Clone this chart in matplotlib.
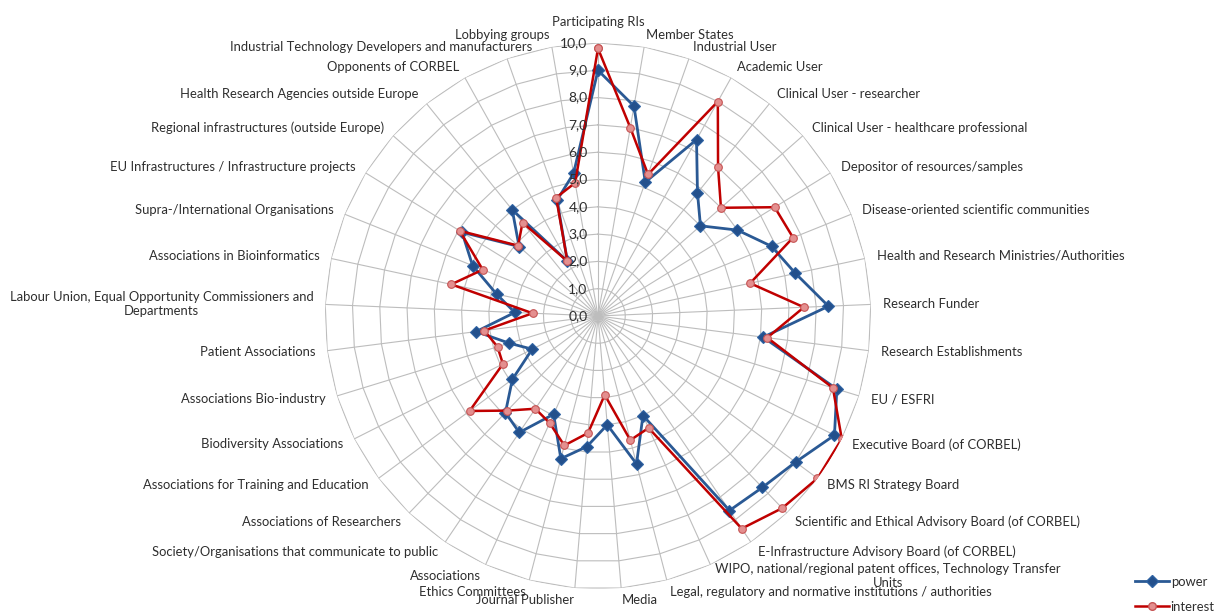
import numpy as np
import matplotlib
matplotlib.use("Agg")
import matplotlib.pyplot as plt
from matplotlib.lines import Line2D

categories = [
    "Participating RIs", "Member States", "Industrial User", "Academic User",
    "Clinical User - researcher", "Clinical User - healthcare professional",
    "Depositor of resources/samples", "Disease-oriented scientific communities",
    "Health and Research Ministries/Authorities", "Research Funder",
    "Research Establishments", "EU / ESFRI", "Executive Board (of CORBEL)",
    "BMS RI Strategy Board", "Scientific and Ethical Advisory Board (of CORBEL)",
    "E-Infrastructure Advisory Board (of CORBEL)",
    "WIPO, national/regional patent offices, Technology Transfer\nUnits",
    "Legal, regulatory and normative institutions / authorities",
    "Media", "Journal Publisher", "Ethics Committees", "Associations",
    "Society/Organisations that communicate to public",
    "Associations of Researchers", "Associations for Training and Education",
    "Biodiversity Associations", "Associations Bio-industry",
    "Patient Associations",
    "Labour Union, Equal Opportunity Commissioners and\nDepartments",
    "Associations in Bioinformatics", "Supra-/International Organisations",
    "EU Infrastructures / Infrastructure projects",
    "Regional infrastructures (outside Europe)",
    "Health Research Agencies outside Europe", "Opponents of CORBEL",
    "Industrial Technology Developers and manufacturers", "Lobbying groups",
]

power = [9.0, 7.8, 5.2, 7.4, 5.8, 5.0, 6.0, 6.85, 7.4, 8.45,
         6.1, 9.15, 9.7, 9.0, 8.7, 8.6, 4.0, 5.6, 4.0, 4.8,
         5.4, 3.95, 5.15, 4.9, 3.9, 2.7, 3.4, 4.5, 3.05, 3.8,
         4.95, 5.85, 3.85, 5.0, 2.3, 4.5, 5.3]

interest = [9.8, 7.0, 5.5, 9.0, 7.0, 6.0, 7.6, 7.7, 5.7, 7.55,
            6.25, 9.0, 10.0, 10.0, 9.75, 9.4, 4.5, 4.7, 2.9, 4.3,
            4.9, 4.3, 4.1, 4.8, 5.85, 3.9, 3.85, 4.2, 2.4, 5.5,
            4.55, 5.95, 3.9, 4.4, 2.3, 4.6, 4.95]

rticks = [0, 1, 2, 3, 4, 5, 6, 7, 8, 9, 10]
rtick_labels = ["0,0", "1,0", "2,0", "3,0", "4,0", "5,0", "6,0", "7,0",
                "8,0", "9,0", "10,0"]

FONT = "Lato"
TXT = "#2E2E2E"
GRID = "#BDBDBD"
FS = 9.35

W, H, DPI = 1218, 613, 100
fig = plt.figure(figsize=(W / DPI, H / DPI), dpi=DPI)
cx, cy, R = 598, 316, 273
ax = fig.add_axes([(cx - R) / W, (H - cy - R) / H, 2 * R / W, 2 * R / H],
                  projection="polar")
ax.set_theta_zero_location("N")
ax.set_theta_direction(-1)
ax.set_ylim(0, 10)
ax.grid(False)
ax.spines["polar"].set_visible(False)
ax.set_xticks([])
ax.set_yticks([])
ax.patch.set_alpha(0)

n = len(categories)
theta = np.arange(n) * 2 * np.pi / n
theta_closed = np.append(theta, theta[0])

# polygon gridlines
for r in rticks[1:]:
    ax.plot(theta_closed, [r] * (n + 1), color=GRID, lw=0.8, zorder=1)
for t in theta:
    ax.plot([t, t], [0, 10], color=GRID, lw=0.8, zorder=1)

# series
p_closed = power + power[:1]
i_closed = interest + interest[:1]
ax.plot(theta_closed, p_closed, color="#2A5994", lw=2.0, marker="D",
        markersize=6.5, markerfacecolor="#23508C", markeredgecolor="#2F63A3",
        markeredgewidth=0.8, zorder=3, label="power")
ax.plot(theta_closed, i_closed, color="#C00000", lw=1.8, marker="o",
        markersize=5.5, markerfacecolor="#E48F8F", markeredgecolor="#C65454",
        markeredgewidth=0.8, zorder=4, label="interest")

# radial tick labels
for r, lab in zip(rticks, rtick_labels):
    ax.annotate(lab, xy=(0, r), xytext=(-7.5, 0), textcoords="offset points",
                ha="right", va="center", fontsize=10, color=TXT,
                family=FONT, zorder=5)

# category labels
px2pt = 72 / DPI
nudges = {"Industrial Technology Developers and manufacturers": (29, 0)}
for t, lab in zip(theta, categories):
    s, c = np.sin(t), np.cos(t)
    off = 12
    if abs(s) < 0.02:
        ha, va = "center", "center"
        dx, dy = 0, 21
    else:
        ha = "left" if s > 0 else "right"
        va = "center"
        dx, dy = off * s, off * c
    nx, ny = nudges.get(lab, (0, 0))
    ax.annotate(lab, xy=(t, 10), xytext=((dx + nx) * px2pt, (dy + ny) * px2pt),
                textcoords="offset points", ha=ha, va=va,
                multialignment="center", fontsize=FS, color=TXT,
                family=FONT, annotation_clip=False)

# legend
handles = [
    Line2D([0], [0], color="#2A5994", lw=2.0, marker="D", markersize=6.5,
           markerfacecolor="#23508C", markeredgecolor="#2F63A3"),
    Line2D([0], [0], color="#C00000", lw=1.8, marker="o", markersize=5.5,
           markerfacecolor="#E48F8F", markeredgecolor="#C65454"),
]
leg = fig.legend(handles, ["power", "interest"], loc="upper left",
                 bbox_to_anchor=(1135 / W, 1 - 576 / H), frameon=False,
                 prop={"family": FONT, "size": FS}, labelcolor=TXT,
                 handlelength=2.6, handletextpad=0.15, labelspacing=1.0,
                 borderaxespad=0, borderpad=0)

fig.savefig("out.png", dpi=DPI, facecolor="white")
